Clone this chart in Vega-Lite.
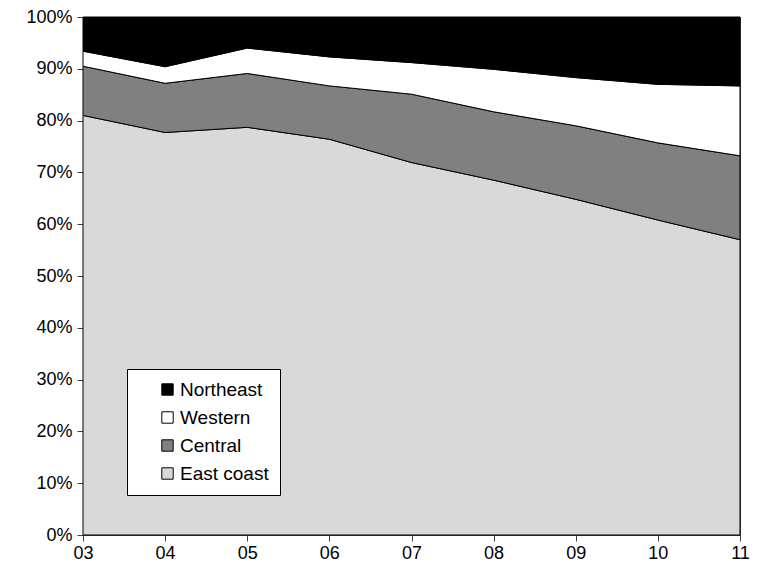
{
  "$schema": "https://vega.github.io/schema/vega-lite/v6.json",
  "width": 657,
  "height": 518,
  "autosize": {"type": "none"},
  "padding": {"left": 83, "top": 17, "right": 25, "bottom": 33},
  "background": "white",
  "config": {
    "font": "Liberation Sans",
    "view": {"stroke": "#404040", "strokeWidth": 1},
    "axis": {"grid": false, "domainColor": "#404040", "tickColor": "#404040", "labelColor": "black", "labelFontSize": 18, "labelFont": "Liberation Sans"}
  },
  "data": {
    "values": [
      {"year": "03", "region": "East coast", "rank": 1, "share": 81.0},
      {"year": "03", "region": "Central", "rank": 2, "share": 9.5},
      {"year": "03", "region": "Western", "rank": 3, "share": 2.9},
      {"year": "03", "region": "Northeast", "rank": 4, "share": 6.6},
      {"year": "04", "region": "East coast", "rank": 1, "share": 77.7},
      {"year": "04", "region": "Central", "rank": 2, "share": 9.5},
      {"year": "04", "region": "Western", "rank": 3, "share": 3.2},
      {"year": "04", "region": "Northeast", "rank": 4, "share": 9.6},
      {"year": "05", "region": "East coast", "rank": 1, "share": 78.7},
      {"year": "05", "region": "Central", "rank": 2, "share": 10.4},
      {"year": "05", "region": "Western", "rank": 3, "share": 4.9},
      {"year": "05", "region": "Northeast", "rank": 4, "share": 6.0},
      {"year": "06", "region": "East coast", "rank": 1, "share": 76.4},
      {"year": "06", "region": "Central", "rank": 2, "share": 10.3},
      {"year": "06", "region": "Western", "rank": 3, "share": 5.6},
      {"year": "06", "region": "Northeast", "rank": 4, "share": 7.7},
      {"year": "07", "region": "East coast", "rank": 1, "share": 71.9},
      {"year": "07", "region": "Central", "rank": 2, "share": 13.2},
      {"year": "07", "region": "Western", "rank": 3, "share": 6.1},
      {"year": "07", "region": "Northeast", "rank": 4, "share": 8.8},
      {"year": "08", "region": "East coast", "rank": 1, "share": 68.5},
      {"year": "08", "region": "Central", "rank": 2, "share": 13.2},
      {"year": "08", "region": "Western", "rank": 3, "share": 8.2},
      {"year": "08", "region": "Northeast", "rank": 4, "share": 10.1},
      {"year": "09", "region": "East coast", "rank": 1, "share": 64.8},
      {"year": "09", "region": "Central", "rank": 2, "share": 14.2},
      {"year": "09", "region": "Western", "rank": 3, "share": 9.3},
      {"year": "09", "region": "Northeast", "rank": 4, "share": 11.7},
      {"year": "10", "region": "East coast", "rank": 1, "share": 60.8},
      {"year": "10", "region": "Central", "rank": 2, "share": 14.9},
      {"year": "10", "region": "Western", "rank": 3, "share": 11.3},
      {"year": "10", "region": "Northeast", "rank": 4, "share": 13.0},
      {"year": "11", "region": "East coast", "rank": 1, "share": 57.0},
      {"year": "11", "region": "Central", "rank": 2, "share": 16.2},
      {"year": "11", "region": "Western", "rank": 3, "share": 13.5},
      {"year": "11", "region": "Northeast", "rank": 4, "share": 13.3}
    ]
  },
  "mark": {"type": "area", "stroke": "black", "strokeWidth": 1, "opacity": 1},
  "encoding": {
    "x": {
      "field": "year", "type": "ordinal",
      "scale": {"type": "point", "padding": 0},
      "axis": {"title": null, "labelAngle": 0, "tickSize": 6, "labelPadding": 3, "domain": true}
    },
    "y": {
      "field": "share", "type": "quantitative", "stack": "normalize",
      "scale": {"domain": [0, 1]},
      "axis": {"title": null, "format": "%", "values": [0, 0.1, 0.2, 0.3, 0.4, 0.5, 0.6, 0.7, 0.8, 0.9, 1], "tickSize": 6, "labelPadding": 5}
    },
    "color": {
      "field": "region", "type": "nominal",
      "scale": {"domain": ["Northeast", "Western", "Central", "East coast"], "range": ["#000000", "#ffffff", "#808080", "#d9d9d9"]},
      "legend": {
        "title": null, "orient": "none", "legendX": 44, "legendY": 352,
        "fillColor": "white", "strokeColor": "black", "padding": 11,
        "symbolType": "square", "symbolSize": 130, "symbolStrokeColor": "black", "symbolStrokeWidth": 1,
        "symbolOffset": 20, "labelOffset": 3, "labelFontSize": 19, "labelColor": "black", "rowPadding": 8, "labelLimit": 120
      }
    },
    "order": {"field": "rank", "type": "quantitative"}
  }
}
